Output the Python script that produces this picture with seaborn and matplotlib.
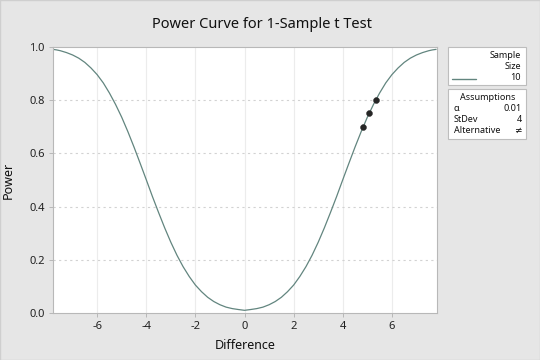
import matplotlib
matplotlib.use("Agg")
import matplotlib.pyplot as plt
from matplotlib.patches import Rectangle
import pandas as pd
import seaborn as sns

# valeurs (courbe de puissance, n = 10)
difference = [-7.8, -7.65, -7.5, -7.25, -7.0, -6.75, -6.5, -6.25, -6.0, -5.75, -5.5,
              -5.25, -5.0, -4.75, -4.5, -4.25, -4.0, -3.75, -3.5, -3.25, -3.0, -2.75,
              -2.5, -2.25, -2.0, -1.75, -1.5, -1.25, -1.0, -0.75, -0.5, -0.25, 0.0,
              0.25, 0.5, 0.75, 1.0, 1.25, 1.5, 1.75, 2.0, 2.25, 2.5, 2.75, 3.0,
              3.25, 3.5, 3.75, 4.0, 4.25, 4.5, 4.75, 5.0, 5.25, 5.5, 5.75, 6.0,
              6.25, 6.5, 6.75, 7.0, 7.25, 7.5, 7.65, 7.8]
power = [0.991, 0.989, 0.986, 0.979, 0.970, 0.958, 0.942, 0.921, 0.896, 0.865, 0.827,
         0.784, 0.736, 0.682, 0.624, 0.563, 0.501, 0.438, 0.378, 0.320, 0.266, 0.217,
         0.174, 0.137, 0.105, 0.080, 0.059, 0.043, 0.031, 0.022, 0.0165, 0.013, 0.010,
         0.013, 0.0165, 0.022, 0.031, 0.043, 0.059, 0.080, 0.105, 0.137, 0.174, 0.217, 0.266,
         0.320, 0.378, 0.438, 0.501, 0.563, 0.624, 0.682, 0.736, 0.784, 0.827, 0.865, 0.896,
         0.921, 0.942, 0.958, 0.970, 0.979, 0.986, 0.989, 0.991]

# points cibles
target_diff = [4.83, 5.07, 5.34]
target_power = [0.70, 0.75, 0.80]

sample_size = "10"
assumptions = [("α", "0.01"), ("StDev", "4"), ("Alternative", "≠")]

curve = pd.DataFrame({"Difference": difference, "Power": power})
targets = pd.DataFrame({"Difference": target_diff, "Power": target_power})

sns.set_theme(style="white")
plt.rcParams["font.family"] = ["Noto Sans", "DejaVu Sans"]
plt.rcParams["axes.unicode_minus"] = False

bg = "#e6e6e6"
line_col = "#62857f"

fig = plt.figure(figsize=(5.4, 3.6), dpi=100, facecolor=bg)
ax = fig.add_axes([0.098, 0.1306, 0.711, 0.7389])
ax.set_facecolor("white")

# grilles
for x in [-6, -4, -2, 0, 2, 4, 6]:
    ax.axvline(x, color="#ececec", lw=0.8, zorder=0)
for y in [0.2, 0.4, 0.6, 0.8]:
    ax.axhline(y, color="#d2d2d2", lw=0.8, ls=(0, (2, 3)), zorder=0)

sns.lineplot(data=curve, x="Difference", y="Power", ax=ax, color=line_col, lw=0.9)
sns.scatterplot(data=targets, x="Difference", y="Power", ax=ax, color="#262626",
                s=18, edgecolor="#262626", zorder=5)

ax.set_xlim(-7.8, 7.83)
ax.set_ylim(0, 1.0)
ax.set_xticks([-6, -4, -2, 0, 2, 4, 6])
ax.set_yticks([0.0, 0.2, 0.4, 0.6, 0.8, 1.0])
ax.set_yticklabels(["0.0", "0.2", "0.4", "0.6", "0.8", "1.0"])
ax.tick_params(axis="both", labelsize=8, colors="#222222", length=3, width=0.6,
               direction="out", bottom=True, left=True, pad=3)
ax.tick_params(axis="both", color="#b0b0b0")
for s in ax.spines.values():
    s.set_color("#b8b8b8")
    s.set_linewidth(0.8)

ax.set_xlabel("Difference", fontsize=9, color="#111111", fontweight="semibold", labelpad=5)
ax.set_ylabel("Power", fontsize=9, color="#111111", fontweight="semibold", labelpad=10)

fig.text(0.486, 0.932, "Power Curve for 1-Sample t Test", ha="center", va="center",
         fontsize=10.5, color="#111111", fontweight="medium")

# boîtes de légende (style Minitab)
def box(x0, y0, x1, y1):
    fig.patches.append(Rectangle((x0 / 540, 1 - y1 / 360), (x1 - x0) / 540, (y1 - y0) / 360,
                                 transform=fig.transFigure, facecolor="white",
                                 edgecolor="#bdbdbd", lw=0.8))

def txt(x, y, s, ha="left"):
    fig.text(x / 540, 1 - y / 360, s, ha=ha, va="center", fontsize=6.5, color="#111111")

box(448, 47, 526, 85)
txt(521, 55.5, "Sample", ha="right")
txt(521, 66.5, "Size", ha="right")
txt(521, 78, sample_size, ha="right")
fig.add_artist(plt.Line2D([452 / 540, 476 / 540], [1 - 79 / 360, 1 - 79 / 360],
                          color=line_col, lw=1.0, transform=fig.transFigure))

box(448, 89, 526, 139)
txt(488, 97, "Assumptions", ha="center")
for i, (k, v) in enumerate(assumptions):
    yy = 108.5 + i * 10.8
    txt(454, yy, k)
    txt(522, yy, v, ha="right")

fig.patches.append(Rectangle((0, 0), 1, 1, transform=fig.transFigure, fill=False,
                             edgecolor="#cfcfcf", lw=1.0))

fig.savefig("out.png", dpi=100, facecolor=bg)
